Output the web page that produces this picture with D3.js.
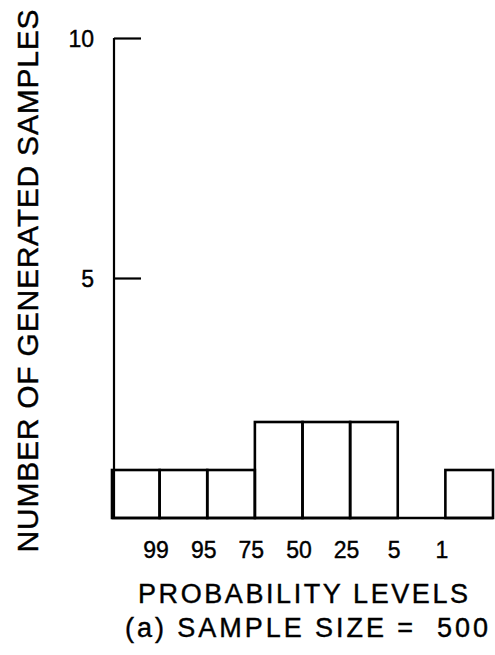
<!DOCTYPE html>
<html>
<head>
<meta charset="utf-8">
<script src="https://cdn.jsdelivr.net/npm/d3@7"></script>
<style>
  html, body { margin: 0; padding: 0; background: #fff; }
  svg { display: block; }
  text { font-family: "Liberation Sans", Arial, sans-serif; fill: #000; stroke: #000; stroke-width: 0.4; }
</style>
</head>
<body>
<svg id="chart" width="495" height="655"></svg>
<script>
// ---- data ----
const binIndex = [0, 1, 2, 3, 4, 5, 6, 7];
const counts   = [1, 1, 1, 2, 2, 2, 0, 1];
const edgeTicks  = [1, 2, 3, 4, 5, 6, 7];
const edgeLabels = ["99", "95", "75", "50", "25", "5", "1"];
const yTicks = [5, 10];
const yTickLabels = ["5", "10"];
const yTitle = "NUMBER OF GENERATED SAMPLES";
const xTitle = "PROBABILITY LEVELS";
const caption = "(a) SAMPLE SIZE =  500";

// ---- layout ----
const svg = d3.select("#chart");
const x = d3.scaleLinear().domain([0, 8]).range([112, 493]);
const y = d3.scaleLinear().domain([0, 10]).range([518, 38]);

// bars
svg.append("g").selectAll("rect")
  .data(binIndex)
  .join("rect")
  .attr("x", d => x(d))
  .attr("width", d => x(d + 1) - x(d))
  .attr("y", d => y(counts[d]))
  .attr("height", d => y(0) - y(counts[d]))
  .attr("fill", "none")
  .attr("stroke", "#000")
  .attr("stroke-width", 2.6);

// baseline
svg.append("line")
  .attr("x1", x(0)).attr("x2", x(8))
  .attr("y1", y(0)).attr("y2", y(0))
  .attr("stroke", "#000").attr("stroke-width", 2.6);

// y axis (ticks point inward, to the right)
const yAxis = d3.axisRight(y)
  .tickValues(yTicks)
  .tickSize(27)
  .tickSizeOuter(0)
  .tickFormat((d, i) => yTickLabels[i]);
const gy = svg.append("g").attr("transform", `translate(${x(0) + 2},0)`).call(yAxis);
gy.select(".domain").attr("stroke", "#000").attr("stroke-width", 2.2)
  .attr("d", `M0,${y(10)}V${y(0)}`);
gy.selectAll(".tick line").attr("stroke", "#000").attr("stroke-width", 2.2);
gy.selectAll(".tick text")
  .attr("x", -20)
  .attr("text-anchor", "end")
  .attr("font-size", 23)
  .attr("dy", "0.36em");

// x axis labels at bin edges
const xAxis = d3.axisBottom(x)
  .tickValues(edgeTicks)
  .tickSize(0)
  .tickSizeOuter(0)
  .tickFormat((d, i) => edgeLabels[i]);
const gx = svg.append("g").attr("transform", `translate(-4,${y(0)})`).call(xAxis);
gx.select(".domain").remove();
gx.selectAll(".tick text")
  .attr("y", 40)
  .attr("dy", 0)
  .attr("font-size", 23);

// y title
svg.append("text")
  .attr("transform", "translate(38,281) rotate(-90)")
  .attr("text-anchor", "middle")
  .attr("font-size", 30)
  .attr("textLength", 543)
  .attr("lengthAdjust", "spacing")
  .text(yTitle);

// x title
svg.append("text")
  .attr("x", 303).attr("y", 603)
  .attr("text-anchor", "middle")
  .attr("font-size", 27)
  .attr("textLength", 330)
  .attr("lengthAdjust", "spacing")
  .text(xTitle);

// caption
svg.append("text")
  .attr("x", 125).attr("y", 637)
  .attr("font-size", 27)
  .attr("textLength", 363)
  .attr("lengthAdjust", "spacing")
  .attr("xml:space", "preserve")
  .style("white-space", "pre")
  .text(caption);
</script>
</body>
</html>
